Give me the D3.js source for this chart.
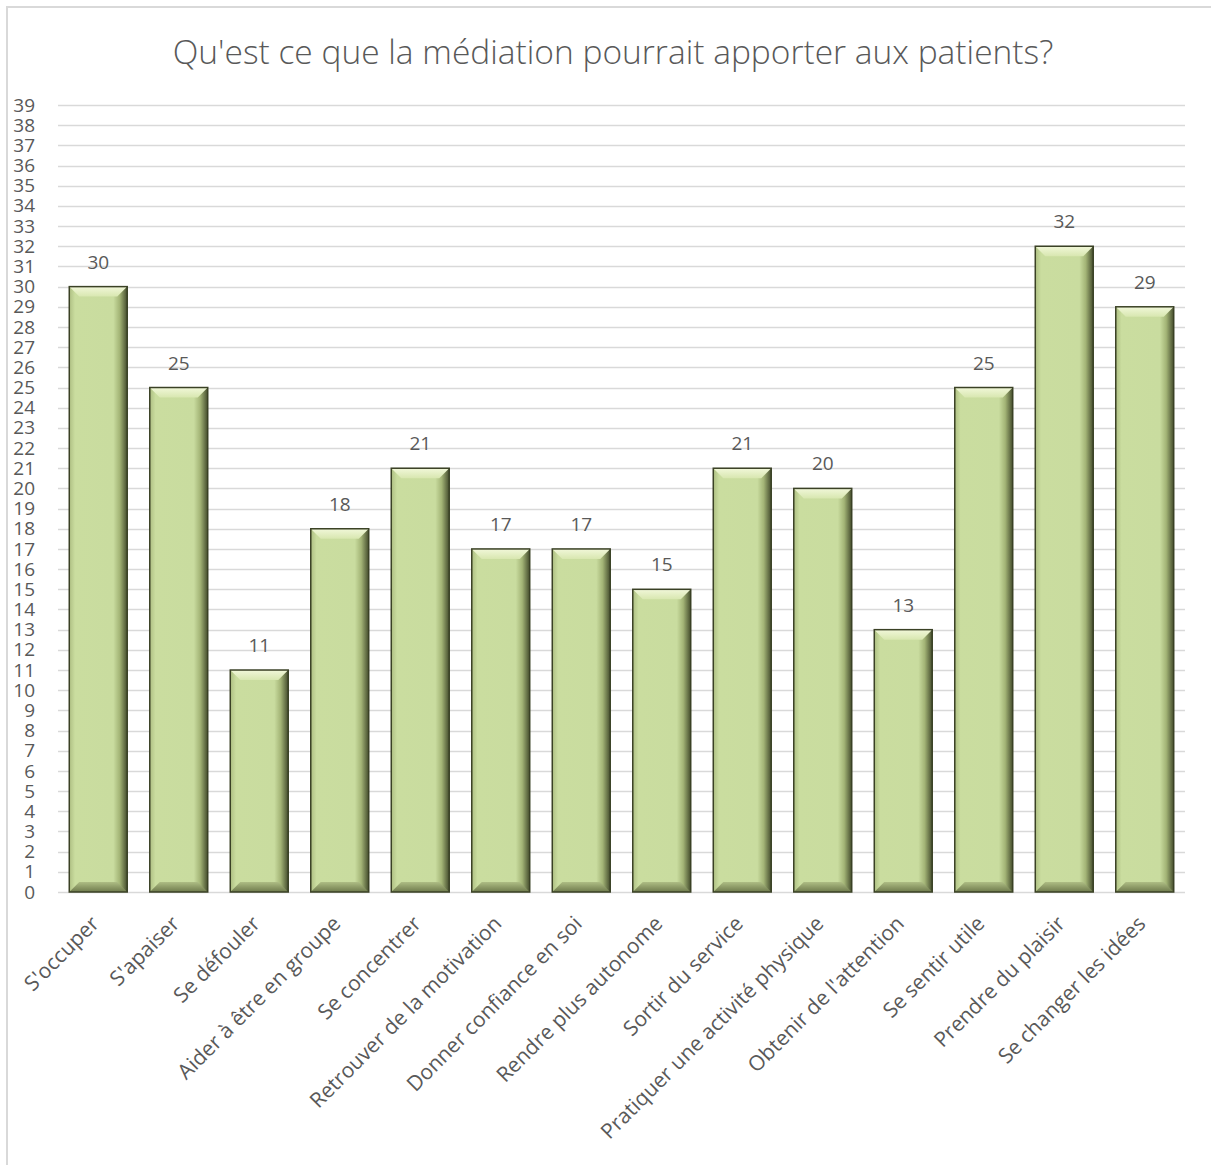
<!DOCTYPE html>
<html>
<head>
<meta charset="utf-8">
<script src="https://cdn.jsdelivr.net/npm/d3@7"></script>
<style>
    body { margin: 0; background: #fff; }
    svg text { font-family: "Open Sans", Lato, sans-serif; fill: #595959; }
</style>
</head>
<body>
<svg id="chart"></svg>
<script>
//Chart data.
var categories = ["S'occuper", "S'apaiser", "Se défouler", "Aider à être en groupe", "Se concentrer",
    "Retrouver de la motivation", "Donner confiance en soi", "Rendre plus autonome", "Sortir du service",
    "Pratiquer une activité physique", "Obtenir de l'attention", "Se sentir utile", "Prendre du plaisir",
    "Se changer les idées"];
var values = [30, 25, 11, 18, 21, 17, 17, 15, 21, 20, 13, 25, 32, 29];
var yTicks = d3.range(0, 40); //0..39
var title = "Qu'est ce que la médiation pourrait apporter aux patients?";

(function () {
    var width = 1211,
        height = 1165;

    var svg = d3.select("#chart")
        .attr("width", width)
        .attr("height", height);

    //Outer chart border (only left and top edges show in the frame).
    svg.append("rect")
        .attr("x", 7)
        .attr("y", 7)
        .attr("width", width + 20)
        .attr("height", height + 20)
        .attr("fill", "#fff")
        .attr("stroke", "#d9d9d9")
        .attr("stroke-width", 2);

    svg.append("text")
        .attr("x", 613)
        .attr("y", 64)
        .attr("text-anchor", "middle")
        .style("font-size", "33.5px")
        .style("font-weight", 300)
        .text(title);

    var x = d3.scaleBand()
        .domain(categories)
        .range([58, 1185])
        .paddingInner(0.28)
        .paddingOuter(0.14);

    var y = d3.scaleLinear()
        .domain([0, 39])
        .range([892, 105]);

    //Gradients for the bevelled bars.
    var defs = svg.append("defs");
    var body = defs.append("linearGradient").attr("id", "barBody")
        .attr("x1", 0).attr("x2", 1).attr("y1", 0).attr("y2", 0);
    [[0, "#aebf83"], [0.1, "#cadd9f"], [0.76, "#c9dc9f"], [0.87, "#a3b476"], [1, "#454d2e"]]
        .forEach(function (s) { body.append("stop").attr("offset", s[0]).attr("stop-color", s[1]); });
    var top = defs.append("linearGradient").attr("id", "barTop")
        .attr("x1", 0).attr("x2", 0).attr("y1", 0).attr("y2", 1);
    [[0, "#f1f7d9"], [1, "#d8e7b0"]]
        .forEach(function (s) { top.append("stop").attr("offset", s[0]).attr("stop-color", s[1]); });
    var bottom = defs.append("linearGradient").attr("id", "barBottom")
        .attr("x1", 0).attr("x2", 0).attr("y1", 0).attr("y2", 1);
    [[0, "#aebd84"], [1, "#6e7a4c"]]
        .forEach(function (s) { bottom.append("stop").attr("offset", s[0]).attr("stop-color", s[1]); });

    //Gridlines.
    svg.append("g")
        .selectAll("line")
        .data(yTicks)
        .enter()
        .append("line")
        .attr("x1", 58)
        .attr("x2", 1185)
        .attr("y1", function (d) { return Math.round(y(d)) + 0.5; })
        .attr("y2", function (d) { return Math.round(y(d)) + 0.5; })
        .attr("stroke", "#d9d9d9")
        .attr("stroke-width", 1.3);

    //Y axis labels.
    var yAxis = d3.axisLeft(y).tickValues(yTicks).tickSize(0).tickPadding(0);
    var gy = svg.append("g")
        .attr("transform", "translate(35,0)")
        .call(yAxis);
    gy.select(".domain").remove();
    gy.selectAll("text")
        .attr("fill", "#595959")
        .style("font-size", "19px")
        .style("font-family", "'Open Sans', Lato, sans-serif");

    //Bars.
    var bw = x.bandwidth(),
        bev = 10;
    var bars = svg.append("g")
        .selectAll("g")
        .data(values)
        .enter()
        .append("g")
        .attr("transform", function (d, i) {
            return "translate(" + x(categories[i]) + "," + y(d) + ")";
        });

    bars.append("rect")
        .attr("width", bw)
        .attr("height", function (d) { return y(0) - y(d); })
        .attr("fill", "url(#barBody)");

    bars.append("path")
        .attr("d", "M0,0 L" + bw + ",0 L" + (bw - bev) + "," + bev + " L" + bev + "," + bev + "Z")
        .attr("fill", "url(#barTop)");

    bars.append("path")
        .attr("d", function (d) {
            var h = y(0) - y(d);
            return "M0," + h + " L" + bw + "," + h + " L" + (bw - bev) + "," + (h - bev) + " L" + bev + "," + (h - bev) + "Z";
        })
        .attr("fill", "url(#barBottom)");

    bars.append("rect")
        .attr("width", bw)
        .attr("height", function (d) { return y(0) - y(d); })
        .attr("fill", "none")
        .attr("stroke", "#3a4125")
        .attr("stroke-width", 1.5);

    //Value labels.
    bars.append("text")
        .attr("x", bw / 2)
        .attr("y", -18)
        .attr("text-anchor", "middle")
        .style("font-size", "19px")
        .text(function (d) { return d; });

    //Category labels.
    svg.append("g")
        .selectAll("text")
        .data(categories)
        .enter()
        .append("text")
        .attr("transform", function (d) {
            return "translate(" + (x(d) + bw / 2 + 2) + ",925) rotate(-45)";
        })
        .attr("text-anchor", "end")
        .style("font-size", "21px")
        .text(function (d) { return d; });
})();
</script>
</body>
</html>
